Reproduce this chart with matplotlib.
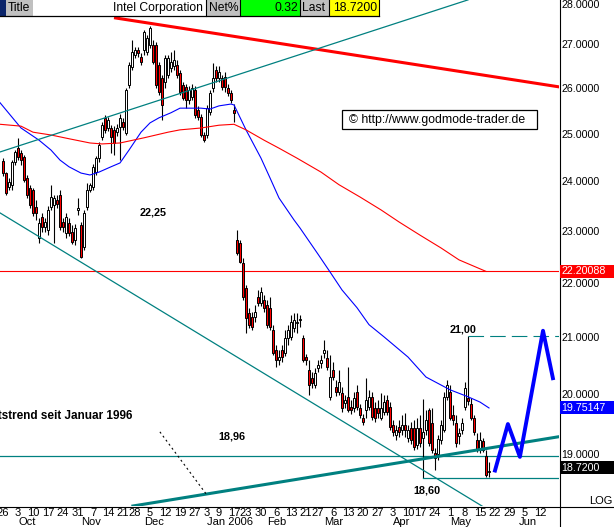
import matplotlib
matplotlib.use("Agg")
import matplotlib.pyplot as plt
import matplotlib.transforms as mtransforms
from matplotlib.patches import Rectangle
import numpy as np
import pandas as pd

plt.rcParams["font.family"] = ["Liberation Sans", "DejaVu Sans"]

# trading calendar (x axis = trading-day index, 0 = 26 Sep 2005)
HOLIDAYS = ["2005-11-24", "2005-12-26", "2006-01-02", "2006-01-16", "2006-02-20", "2006-04-14"]
WEEK_TICKS = ["2005-09-26", "2005-10-03", "2005-10-10", "2005-10-17", "2005-10-24", "2005-10-31",
              "2005-11-07", "2005-11-14", "2005-11-21", "2005-11-28", "2005-12-05", "2005-12-12",
              "2005-12-19", "2005-12-27", "2006-01-03", "2006-01-09", "2006-01-17", "2006-01-23",
              "2006-01-30", "2006-02-06", "2006-02-13", "2006-02-21", "2006-02-27", "2006-03-06",
              "2006-03-13", "2006-03-20", "2006-03-27", "2006-04-03", "2006-04-10", "2006-04-17",
              "2006-04-24", "2006-05-01", "2006-05-08", "2006-05-15", "2006-05-22", "2006-05-29",
              "2006-06-05", "2006-06-12"]
MONTH_STARTS = ["2005-10-03", "2005-11-01", "2005-12-01", "2006-01-03", "2006-02-01",
                "2006-03-01", "2006-04-03", "2006-05-01", "2006-06-01"]
MONTH_LABELS = ["Oct", "Nov", "Dec", "Jan 2006", "Feb", "Mar", "Apr", "May", "Jun"]
PRICE_TICKS = [19, 20, 21, 22, 23, 24, 25, 26, 27, 28]

# daily OHLC, Intel, 26 Sep 2005 .. 18 May 2006
opens = [24.40, 24.15, 23.87, 23.91, 24.38, 24.67, 24.57, 24.48, 24.05, 23.84,
         23.80, 23.46, 22.85, 23.26, 23.06, 23.00, 23.46, 23.50, 23.60, 23.70,
         23.16, 22.94, 23.14, 22.96, 22.81, 23.40, 23.10, 22.67, 23.46, 23.80,
         23.87, 24.17, 24.46, 24.91, 25.32, 25.10, 25.10, 25.06, 25.02, 25.12,
         25.23, 25.00, 26.04, 26.45, 26.72, 26.83, 26.67, 26.83, 26.79, 26.95,
         26.95, 26.95, 26.49, 26.20, 26.11, 26.27, 26.43, 26.47, 26.49, 26.31,
         26.04, 26.00, 25.71, 25.78, 25.93, 25.49, 25.34, 24.95, 24.95, 25.45,
         25.97, 26.38, 26.20, 26.20, 26.22, 25.97, 25.86, 25.49, 22.81, 22.75,
         22.36, 21.89, 21.42, 21.35, 21.35, 21.72, 21.61, 21.66, 21.57, 21.52,
         21.11, 20.76, 20.58, 20.76, 20.70, 20.97, 20.99, 21.15, 21.24, 21.30,
         20.97, 20.63, 20.40, 20.26, 20.14, 20.44, 20.52, 20.70, 20.61, 19.94,
         20.40, 20.11, 20.02, 20.00, 19.83, 19.94, 19.77, 19.75, 20.02, 19.75,
         19.58, 19.72, 19.77, 19.94, 19.75, 19.75, 19.58, 19.68, 19.89, 19.77,
         19.47, 19.30, 19.43, 19.38, 19.47, 19.25, 19.42, 19.42, 19.13, 19.42,
         19.25, 19.38, 19.72, 19.50, 19.00, 18.99, 19.22, 19.38, 19.94, 20.02,
         19.63, 19.50, 19.28, 19.38, 19.77, 19.92, 19.82, 19.58, 19.22, 19.05,
         19.20, 18.95, 18.70]
highs = [24.46, 24.17, 24.05, 24.42, 24.63, 24.89, 24.63, 24.53, 24.11, 23.91,
         23.84, 23.60, 23.24, 23.34, 23.24, 23.48, 23.91, 23.70, 23.70, 23.80,
         23.24, 23.34, 23.24, 23.10, 23.12, 23.64, 23.16, 23.40, 23.95, 23.95,
         24.34, 24.51, 24.80, 25.23, 25.38, 25.34, 25.17, 25.15, 25.19, 25.40,
         25.32, 25.97, 26.56, 27.06, 26.90, 26.90, 26.76, 27.30, 27.18, 27.39,
         27.06, 27.02, 26.56, 26.27, 26.72, 26.72, 26.79, 26.83, 26.61, 26.38,
         26.11, 26.06, 26.02, 26.06, 26.02, 25.58, 25.40, 25.02, 25.60, 25.93,
         26.54, 26.47, 26.47, 26.27, 26.34, 26.06, 25.93, 25.62, 23.00, 22.81,
         22.46, 21.94, 21.52, 21.44, 21.57, 21.85, 21.90, 21.76, 21.66, 21.72,
         21.21, 20.85, 20.76, 20.85, 21.11, 21.21, 21.39, 21.42, 21.42, 21.39,
         21.02, 20.69, 20.58, 20.37, 20.44, 20.58, 20.67, 20.94, 20.76, 20.67,
         20.54, 20.23, 20.40, 20.11, 19.97, 20.46, 19.89, 20.02, 20.14, 19.82,
         19.65, 20.26, 20.06, 20.02, 19.85, 19.89, 20.00, 19.97, 19.97, 19.85,
         19.55, 19.47, 19.55, 19.63, 19.67, 19.47, 19.52, 19.55, 19.58, 19.63,
         19.90, 19.72, 19.75, 19.75, 19.08, 19.30, 19.55, 20.02, 20.23, 20.14,
         19.80, 19.63, 19.42, 19.58, 20.20, 21.00, 19.92, 19.63, 19.33, 19.35,
         19.25, 19.05, 18.86]
lows = [24.09, 23.70, 23.80, 23.80, 24.32, 24.42, 24.32, 23.97, 23.64, 23.44,
        23.28, 23.20, 22.75, 22.96, 22.96, 22.90, 23.40, 22.75, 23.44, 23.00,
        22.96, 22.85, 22.88, 22.73, 22.71, 23.30, 22.46, 22.61, 23.40, 23.76,
        23.80, 24.11, 24.38, 24.84, 25.00, 25.04, 24.57, 24.53, 24.93, 24.42,
        25.06, 24.96, 25.97, 26.38, 26.65, 26.67, 26.49, 26.72, 26.72, 26.88,
        26.52, 25.97, 25.82, 25.27, 25.97, 26.20, 26.34, 26.38, 26.20, 25.82,
        25.71, 25.53, 25.62, 25.71, 25.32, 25.27, 24.91, 24.80, 24.89, 25.38,
        25.89, 26.11, 26.11, 25.93, 25.89, 25.80, 25.64, 25.23, 22.52, 22.36,
        21.66, 21.06, 21.15, 21.12, 21.26, 21.55, 21.55, 21.44, 21.15, 21.12,
        20.67, 20.46, 20.49, 20.54, 20.65, 20.85, 20.94, 21.08, 21.06, 21.17,
        20.54, 20.49, 19.97, 20.09, 20.09, 20.37, 20.44, 20.61, 20.40, 19.89,
        20.23, 19.96, 19.97, 19.68, 19.75, 19.68, 19.65, 19.68, 19.72, 19.58,
        19.47, 19.58, 19.72, 19.55, 19.52, 19.58, 19.55, 19.63, 19.63, 19.38,
        19.28, 19.22, 19.27, 19.30, 19.27, 19.18, 19.15, 19.05, 19.07, 19.10,
        18.60, 19.30, 19.12, 19.00, 18.73, 18.89, 19.15, 19.35, 19.89, 19.55,
        19.47, 19.10, 19.15, 19.32, 19.72, 19.80, 19.55, 19.30, 19.02, 19.00,
        19.02, 18.62, 18.62]
closes = [24.15, 23.74, 23.97, 24.38, 24.59, 24.48, 24.42, 24.01, 23.70, 23.50,
          23.34, 23.34, 23.14, 23.06, 23.16, 23.40, 23.66, 23.64, 23.52, 23.06,
          23.06, 23.26, 22.94, 22.77, 23.04, 23.44, 22.48, 23.34, 23.80, 23.91,
          24.27, 24.46, 24.74, 25.17, 25.06, 25.27, 24.91, 24.78, 25.10, 25.32,
          25.12, 25.93, 26.49, 26.79, 26.83, 26.76, 26.56, 27.25, 27.11, 27.34,
          26.56, 26.04, 25.89, 25.60, 26.65, 26.65, 26.56, 26.61, 26.27, 25.89,
          25.75, 25.71, 25.93, 25.97, 25.38, 25.34, 24.95, 24.84, 25.53, 25.86,
          26.20, 26.20, 26.34, 26.00, 26.00, 25.86, 25.71, 25.43, 22.55, 22.38,
          21.72, 21.33, 21.21, 21.17, 21.44, 21.61, 21.81, 21.52, 21.21, 21.17,
          20.70, 20.58, 20.63, 20.63, 20.97, 21.11, 21.26, 21.30, 21.26, 21.31,
          20.58, 20.58, 20.14, 20.18, 20.35, 20.49, 20.58, 20.76, 20.46, 20.28,
          20.28, 20.02, 20.20, 19.75, 19.89, 19.72, 19.72, 19.92, 19.77, 19.63,
          19.52, 19.89, 19.94, 19.60, 19.58, 19.67, 19.75, 19.85, 19.68, 19.43,
          19.35, 19.38, 19.35, 19.47, 19.38, 19.38, 19.22, 19.10, 19.42, 19.17,
          19.35, 19.55, 19.17, 19.05, 18.92, 19.24, 19.47, 19.94, 20.14, 19.58,
          19.55, 19.17, 19.33, 19.50, 20.09, 19.87, 19.58, 19.35, 19.05, 19.22,
          19.05, 18.65, 18.72]

# moving averages (sampled along the curves)
ma_fast_day = [-1, 6, 12, 16, 19, 22, 26, 29, 32, 36, 39, 42, 46, 49, 52, 56, 59, 66, 69, 72,
               76, 77, 81, 86, 89, 92, 97, 99, 105, 109, 113, 118, 122, 127, 135, 141, 149,
               155, 159, 162]
ma_fast_val = [25.65, 25.10, 24.84, 24.63, 24.42, 24.28, 24.15, 24.11, 24.17, 24.28, 24.36,
               24.63, 25.01, 25.21, 25.32, 25.43, 25.53, 25.53, 25.51, 25.58, 25.62, 25.60,
               25.06, 24.46, 24.05, 23.64, 23.20, 23.04, 22.53, 22.19, 21.85, 21.52, 21.21,
               20.99, 20.63, 20.28, 20.06, 19.94, 19.85, 19.75]
ma_slow_day = [-1, 6, 10, 16, 22, 29, 33, 39, 47, 55, 59, 66, 72, 77, 81, 87, 92, 98, 106,
               112, 119, 126, 132, 139, 146, 152, 161]
ma_slow_val = [25.18, 25.14, 25.01, 24.95, 24.87, 24.78, 24.76, 24.78, 24.89, 25.01, 25.06,
               25.10, 25.16, 25.18, 25.06, 24.84, 24.67, 24.46, 24.17, 23.91, 23.66, 23.40,
               23.16, 22.90, 22.65, 22.42, 22.20]

# drawn trend lines: (day, price) end points
red_trend = ([37.5, 185.3], [27.58, 26.00])
upper_channel = ([-1, 155], [24.59, 28.01])
lower_channel = ([-1, 160], [23.34, 18.15])
long_uptrend = ([43.3, 185.3], [18.16, 19.27])
dotted_line = ([52.3, 68], [19.35, 18.33])
projection_day = [164, 168.3, 172.3, 180, 183.3]
projection_val = [18.72, 19.48, 18.94, 21.10, 20.26]
LEVEL_2220 = 22.20088
LEVEL_1896 = 18.96
LEVEL_2100 = 21.00
LEVEL_1860 = 18.60
LAST_MA_FAST = 19.75147
LAST_PRICE = 18.72

TEAL = "#008080"
W, H = 614, 527

days = pd.bdate_range("2005-09-26", "2006-06-30")
days = days[~days.isin(pd.to_datetime(HOLIDAYS))]


def pos(d):
    return days.get_loc(pd.Timestamp(d))


fig = plt.figure(figsize=(W / 100, H / 100), dpi=100)
ax = fig.add_axes([0, (H - 506) / H, 559 / W, 506 / H])
ax.set_yscale("log")
ax.set_xlim(-1, 185.33)
ax.set_ylim(18.16, 28.007)
for s in ax.spines.values():
    s.set_visible(False)

# candles
x = np.arange(len(closes))
o, h, l, c = (np.array(v) for v in (opens, highs, lows, closes))
ax.vlines(x, l, h, color="black", lw=0.8, zorder=3)
ax.bar(x, np.maximum(np.abs(c - o), 0.004), bottom=np.minimum(o, c), width=0.78,
       color=np.where(c >= o, "white", "#ff0000"), edgecolor="black", linewidth=0.7, zorder=4)

# moving averages
ax.plot(ma_fast_day, ma_fast_val, color="#0000ff", lw=0.8, zorder=5)
ax.plot(ma_slow_day, ma_slow_val, color="#ff0000", lw=0.8, zorder=5)

# trend lines and levels
ax.axhline(LEVEL_2220, color="#ff0000", lw=0.8, zorder=2)
ax.axhline(LEVEL_1896, color=TEAL, lw=0.9, zorder=2)
ax.plot(*red_trend, color="#ff0000", lw=2.2, zorder=6)
ax.plot(*upper_channel, color=TEAL, lw=0.9, zorder=6)
ax.plot(*lower_channel, color=TEAL, lw=0.9, zorder=6)
ax.plot(*long_uptrend, color=TEAL, lw=2.2, zorder=6)
ax.plot(*dotted_line, color="black", lw=0.8, ls=(0, (1.8, 2.7)), zorder=6)
ax.plot([155, 185.33], [LEVEL_2100, LEVEL_2100], color=TEAL, lw=0.8, ls=(0, (14, 5.5)), zorder=6)
ax.plot([140, 185.33], [LEVEL_1860, LEVEL_1860], color=TEAL, lw=0.9, zorder=6)
ax.plot(projection_day, projection_val, color="#0000ff", lw=2.8, zorder=7)

# annotations
bold = dict(fontsize=7.8, fontweight="bold", ha="center", va="center", zorder=8)
ax.text(50, 23.34, "22,25", **bold)
ax.text(76.3, 19.27, "18,96", **bold)
ax.text(153.3, 21.12, "21,00", **bold)
ax.text(141.3, 18.40, "18,60", **bold)
ax.text(43, 19.62, "Aufwärtstrend seit Januar 1996", fontsize=8.5, fontweight="bold",
        ha="right", va="center", clip_on=True, zorder=8)

# x axis
ax.set_xticks([pos(d) for d in WEEK_TICKS], [str(pd.Timestamp(d).day) for d in WEEK_TICKS])
ax.tick_params(axis="x", length=0, pad=1.4, labelsize=8)
ax.set_yticks([])
ax.yaxis.set_minor_locator(matplotlib.ticker.NullLocator())
month_tr = mtransforms.offset_copy(ax.get_xaxis_transform(), fig=fig, y=-16, units="dots")
for d, lab in zip(MONTH_STARTS, MONTH_LABELS):
    ax.text(pos(d), 0, lab, transform=month_tr, fontsize=8, ha="left", va="center")

# right price scale
ytr = mtransforms.blended_transform_factory(ax.transAxes, ax.transData)
lab_tr = mtransforms.offset_copy(ytr, fig=fig, x=2, y=-2, units="dots")
for v in PRICE_TICKS:
    if v == 28:
        ax.text(1, v, f"{v:.4f}", transform=mtransforms.offset_copy(ytr, fig=fig, x=2, y=0, units="dots"),
                fontsize=7.7, ha="left", va="top", clip_on=False)
    else:
        ax.text(1, v, f"{v:.4f}", transform=lab_tr, fontsize=7.7, ha="left", va="center", clip_on=False)

# overlay in pixel coordinates
ov = fig.add_axes([0, 0, 1, 1])
ov.set_xlim(0, W)
ov.set_ylim(H, 0)
ov.axis("off")
ov.patch.set_visible(False)


def py(v):
    return H - ax.transData.transform((0, v))[1]


for v, txt, col, shift in ((LEVEL_2220, "22.20088", "#ff0000", 0),
                           (LAST_MA_FAST, "19.75147", "#0000ff", 0),
                           (LAST_PRICE, "18.7200", "black", -3)):
    yc = py(v) + shift
    ov.add_patch(Rectangle((560, yc - 6.5), 54, 13, fc=col, ec="none", zorder=9))
    ov.text(561, yc, txt, color="white", fontsize=7.7, ha="left", va="center", zorder=10)

ov.plot([559.5, 559.5], [0, H], color="black", lw=0.8)
ov.plot([0, W], [506.5, 506.5], color="black", lw=0.8)
ov.text(601, 501, "LOG", fontsize=8, ha="center", va="center")

# header bar
for x0, wd, col in ((0, 6, "#0a246a"), (6, 27, "#c0c0c0"), (33, 173, "white"), (206, 34, "#c0c0c0"),
                    (240, 60, "#00ff00"), (300, 29, "#c0c0c0"), (329, 50, "#ffff00")):
    ov.add_patch(Rectangle((x0, 0), wd, 15.5, fc=col, ec="none", zorder=9))
for xv in (206, 240, 300, 329, 379):
    ov.plot([xv, xv], [0, 16], color="black", lw=0.8, zorder=10)
ov.plot([0, 379], [16, 16], color="black", lw=0.9, zorder=10)
hdr = dict(fontsize=8.7, va="center", zorder=11)
ov.text(8, 8, "Title", ha="left", **hdr)
ov.text(203, 8, "Intel Corporation", ha="right", **hdr)
ov.text(209, 8, "Net%", ha="left", **hdr)
ov.text(298, 8, "0.32", ha="right", **hdr)
ov.text(302, 8, "Last", ha="left", **hdr)
ov.text(377, 8, "18.7200", ha="right", **hdr)

# copyright box
ov.add_patch(Rectangle((342, 110), 195, 19, fc="white", ec="black", lw=0.9, zorder=9))
ov.text(349, 119.5, "© http://www.godmode-trader.de", fontsize=8.8, ha="left", va="center", zorder=10)

fig.savefig("out.png", dpi=100)
